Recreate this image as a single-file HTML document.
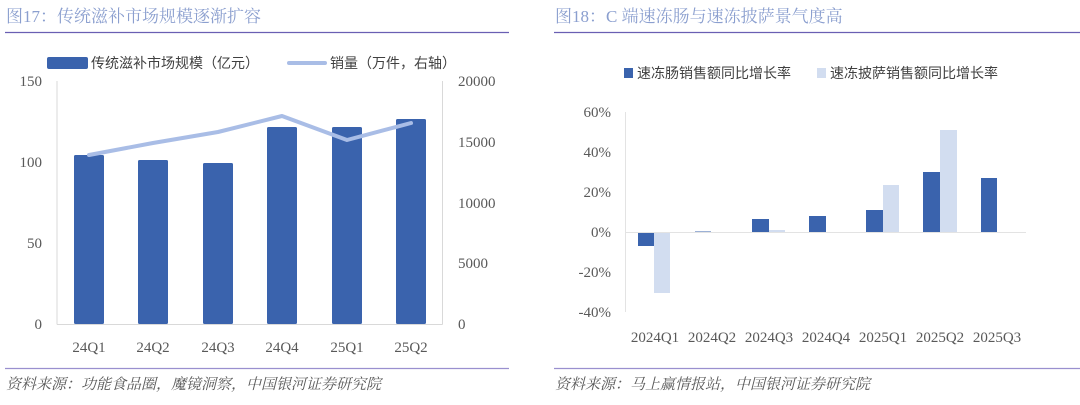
<!DOCTYPE html>
<html><head><meta charset="utf-8"><style>
body{margin:0;background:#fff;width:1080px;height:400px;overflow:hidden}
svg text{font-family:"Liberation Serif","Noto Serif CJK SC",serif;fill:#595959}
</style></head><body>
<svg width="1080" height="400" viewBox="0 0 1080 400" xmlns="http://www.w3.org/2000/svg">
<!-- Left chart -->
<text x="6" y="22" font-size="17" style="fill:#8b9fcf">图17：传统滋补市场规模逐渐扩容</text>
<line x1="5" y1="32.5" x2="509" y2="32.5" stroke="#6a5fb3" stroke-width="1.2"/>
<rect x="47" y="57" width="41" height="12" rx="2" fill="#3a63ad"/>
<text x="91" y="68" font-size="14" style="font-family:'Noto Sans CJK SC',sans-serif;fill:#404040">传统滋补市场规模（亿元）</text>
<line x1="289" y1="63" x2="325" y2="63" stroke="#a9bde6" stroke-width="4" stroke-linecap="round"/>
<text x="330" y="68" font-size="14" style="font-family:'Noto Sans CJK SC',sans-serif;fill:#404040">销量（万件，右轴）</text>
<g stroke="#d9d9d9" stroke-width="1" fill="none">
<line x1="57" y1="81" x2="57" y2="324.5"/><line x1="442.5" y1="81" x2="442.5" y2="324.5"/><line x1="57" y1="324.5" x2="442.5" y2="324.5"/>
</g>
<g font-size="15" text-anchor="end">
<text x="42" y="86">150</text><text x="42" y="167">100</text><text x="42" y="248">50</text><text x="42" y="329">0</text>
</g>
<g font-size="15">
<text x="458" y="86">20000</text><text x="458" y="147">15000</text><text x="458" y="208">10000</text><text x="458" y="268">5000</text><text x="458" y="329">0</text>
</g>
<g fill="#3a63ad">
<rect x="74" y="155" width="30" height="169" rx="1.5"/>
<rect x="138" y="160" width="30" height="164" rx="1.5"/>
<rect x="203" y="163" width="30" height="161" rx="1.5"/>
<rect x="267" y="127" width="30" height="197" rx="1.5"/>
<rect x="332" y="127" width="30" height="197" rx="1.5"/>
<rect x="396" y="119" width="30" height="205" rx="1.5"/>
</g>
<polyline points="89,155 153,143 218,132 282,116 347,140 411,123" fill="none" stroke="#a9bde6" stroke-width="4" stroke-linejoin="round" stroke-linecap="round"/>
<g font-size="15" text-anchor="middle">
<text x="89" y="352">24Q1</text><text x="153" y="352">24Q2</text><text x="218" y="352">24Q3</text><text x="282" y="352">24Q4</text><text x="347" y="352">25Q1</text><text x="411" y="352">25Q2</text>
</g>
<line x1="5" y1="368.5" x2="509" y2="368.5" stroke="#9a90cf" stroke-width="1.2"/>
<text x="6" y="389" font-size="15" font-style="italic" style="fill:#595959">资料来源：功能食品圈，魔镜洞察，中国银河证券研究院</text>

<!-- Right chart -->
<text x="555" y="22" font-size="17" style="fill:#8b9fcf">图18：C 端速冻肠与速冻披萨景气度高</text>
<line x1="554" y1="32.5" x2="1080" y2="32.5" stroke="#6a5fb3" stroke-width="1.2"/>
<rect x="624" y="68" width="9" height="10" fill="#3a63ad"/>
<text x="637" y="78" font-size="14" style="font-family:'Noto Sans CJK SC',sans-serif;fill:#404040">速冻肠销售额同比增长率</text>
<rect x="817" y="68" width="9" height="10" fill="#d2ddf0"/>
<text x="830" y="78" font-size="14" style="font-family:'Noto Sans CJK SC',sans-serif;fill:#404040">速冻披萨销售额同比增长率</text>
<g font-size="15" text-anchor="end">
<text x="611" y="117">60%</text><text x="611" y="157">40%</text><text x="611" y="197">20%</text><text x="611" y="237">0%</text><text x="611" y="277">-20%</text><text x="611" y="317">-40%</text>
</g>
<line x1="625.5" y1="112" x2="625.5" y2="312" stroke="#e3e3e3"/>
<g fill="#3a63ad">
<rect x="638" y="232" width="16" height="14"/>
<rect x="695" y="231.5" width="16" height="1"/>
<rect x="752" y="219" width="17" height="13"/>
<rect x="809" y="216" width="17" height="16"/>
<rect x="866" y="210" width="17" height="22"/>
<rect x="923" y="172" width="17" height="60"/>
<rect x="981" y="178" width="16" height="54"/>
</g>
<g fill="#d2ddf0">
<rect x="654" y="232" width="16" height="61"/>
<rect x="769" y="230" width="16" height="2"/>
<rect x="883" y="185" width="16" height="47"/>
<rect x="940" y="130" width="17" height="102"/>
</g>
<line x1="625" y1="232.5" x2="1026" y2="232.5" stroke="#e3e3e3"/>
<g font-size="15" text-anchor="middle">
<text x="655" y="342">2024Q1</text><text x="712" y="342">2024Q2</text><text x="769" y="342">2024Q3</text><text x="826" y="342">2024Q4</text><text x="883" y="342">2025Q1</text><text x="940" y="342">2025Q2</text><text x="997" y="342">2025Q3</text>
</g>
<line x1="554" y1="368.5" x2="1080" y2="368.5" stroke="#9a90cf" stroke-width="1.2"/>
<text x="555" y="389" font-size="15" font-style="italic" style="fill:#595959">资料来源：马上赢情报站，中国银河证券研究院</text>
</svg>
</body></html>
